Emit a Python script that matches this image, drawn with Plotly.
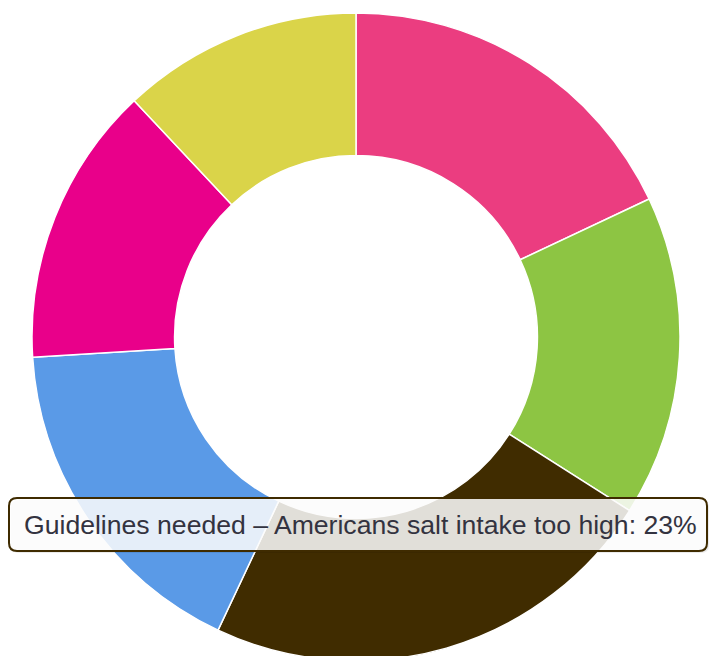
import plotly.graph_objects as go

labels = [
    "Story A",
    "Story B",
    "Guidelines needed – Americans salt intake too high",
    "Story C",
    "Story D",
    "Story E",
]
values = [18, 16, 23, 17, 14, 12]
colors = ["#EB3D80", "#8DC543", "#402C00", "#5A9AE7", "#E9008A", "#DAD449"]
tooltip_text = "Guidelines needed – Americans salt intake too high: 23%"

W, H = 710, 674
cx, cy, r = 356, 337, 324

fig = go.Figure(go.Pie(
    labels=labels,
    values=values,
    marker=dict(colors=colors, line=dict(color="white", width=1.5)),
    hole=0.56,
    sort=False,
    direction="clockwise",
    rotation=0,
    textinfo="none",
    hoverinfo="label+percent",
    showlegend=False,
    domain=dict(x=[(cx - r) / W, (cx + r) / W], y=[(H - cy - r) / H, (H - cy + r) / H]),
))


def px(x):
    return x / W


def py(y):
    return 1 - y / H


def rounded_path(x0, y0, x1, y1, rad):
    return (
        f"M {px(x0 + rad)} {py(y0)} L {px(x1 - rad)} {py(y0)} "
        f"Q {px(x1)} {py(y0)} {px(x1)} {py(y0 + rad)} "
        f"L {px(x1)} {py(y1 - rad)} Q {px(x1)} {py(y1)} {px(x1 - rad)} {py(y1)} "
        f"L {px(x0 + rad)} {py(y1)} Q {px(x0)} {py(y1)} {px(x0)} {py(y1 - rad)} "
        f"L {px(x0)} {py(y0 + rad)} Q {px(x0)} {py(y0)} {px(x0 + rad)} {py(y0)} Z"
    )


bx0, by0, bx1, by1 = 9, 498, 707, 551
shapes = [
    dict(type="path", xref="paper", yref="paper", layer="above",
         path=rounded_path(bx0 + 2, by0 + 2, bx1 + 2, by1 + 2, 8),
         fillcolor="rgba(0,0,0,0.08)", line=dict(width=0)),
    dict(type="path", xref="paper", yref="paper", layer="above",
         path=rounded_path(bx0, by0, bx1, by1, 8),
         fillcolor="rgba(255,255,255,0.85)", line=dict(color="#3F2B00", width=2)),
]

fig.update_layout(
    width=W, height=H,
    margin=dict(l=0, r=0, t=0, b=0),
    paper_bgcolor="white",
    plot_bgcolor="white",
    shapes=shapes,
    annotations=[dict(
        x=px(360), y=py(525), xref="paper", yref="paper",
        text=tooltip_text, showarrow=False, xanchor="center", yanchor="middle",
        font=dict(family="Liberation Sans", size=26.6, color="#333340"),
    )],
)

fig.write_html("out.html", post_script="document.body.style.overflow='hidden';")
